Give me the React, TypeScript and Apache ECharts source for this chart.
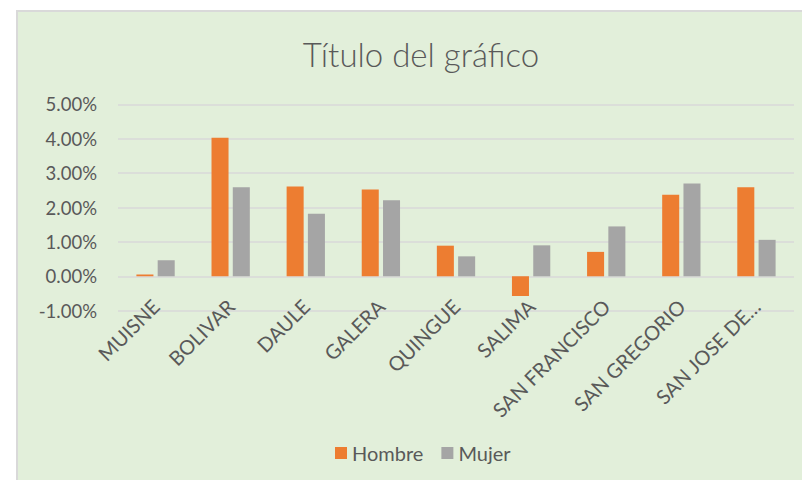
import React, { useEffect, useRef } from "react";
import * as echarts from "echarts";

const categories = [
  "MUISNE",
  "BOLIVAR",
  "DAULE",
  "GALERA",
  "QUINGUE",
  "SALIMA",
  "SAN FRANCISCO",
  "SAN GREGORIO",
  "SAN JOSE DE…",
];
const hombre = [0.05, 4.03, 2.61, 2.52, 0.89, -0.57, 0.71, 2.37, 2.59];
const mujer = [0.47, 2.59, 1.82, 2.21, 0.58, 0.9, 1.45, 2.7, 1.06];
const seriesNames = ["Hombre", "Mujer"];
const titleText = "Título del gráfico";

const FONT = "Lato";
const TEXT = "#595959";

export default function App() {
  const ref = useRef<HTMLDivElement>(null);
  useEffect(() => {
    document.body.style.margin = "0";
    const chart = echarts.init(ref.current!, null, { renderer: "svg" });
    chart.setOption({
      animation: false,
      backgroundColor: "#ffffff",
      graphic: [
        {
          type: "rect",
          z: -10,
          silent: true,
          shape: { x: 17, y: 11, width: 800, height: 480 },
          style: { fill: "#E2EFDA", stroke: "#D9D9D9", lineWidth: 2 },
        },
        {
          type: "text",
          x: 421,
          y: 54,
          style: {
            text: titleText,
            fill: TEXT,
            font: `300 33px ${FONT}`,
            textAlign: "center",
            textVerticalAlign: "middle",
          },
        },
      ],
      legend: {
        data: seriesNames,
        left: 330,
        top: 438,
        icon: "rect",
        itemWidth: 12,
        itemHeight: 12,
        itemGap: 18,
        textStyle: { color: TEXT, fontFamily: FONT, fontSize: 20 },
      },
      grid: { left: 118, right: 8, top: 104.3, bottom: 169.3 },
      xAxis: {
        type: "category",
        data: categories,
        axisLine: { show: false, onZero: false },
        axisTick: { show: false },
        axisLabel: {
          rotate: 45,
          interval: 0,
          margin: -8,
          color: TEXT,
          fontFamily: FONT,
          fontSize: 20,
        },
      },
      yAxis: {
        type: "value",
        min: -1,
        max: 5,
        interval: 1,
        axisLine: { show: false },
        axisTick: { show: false },
        splitLine: { lineStyle: { color: "#D9D9D9", width: 1.5 } },
        axisLabel: {
          margin: 21,
          color: TEXT,
          fontFamily: FONT,
          fontSize: 18.5,
          formatter: (v: number) => v.toFixed(2) + "%",
        },
      },
      series: [
        {
          name: seriesNames[0],
          type: "bar",
          data: hombre,
          itemStyle: { color: "#ED7D31" },
          barGap: "25%",
          barCategoryGap: "49%",
        },
        {
          name: seriesNames[1],
          type: "bar",
          data: mujer,
          itemStyle: { color: "#A5A5A5" },
          barGap: "25%",
          barCategoryGap: "49%",
        },
      ],
    });
    return () => chart.dispose();
  }, []);
  return <div ref={ref} style={{ width: 802, height: 480 }} />;
}
